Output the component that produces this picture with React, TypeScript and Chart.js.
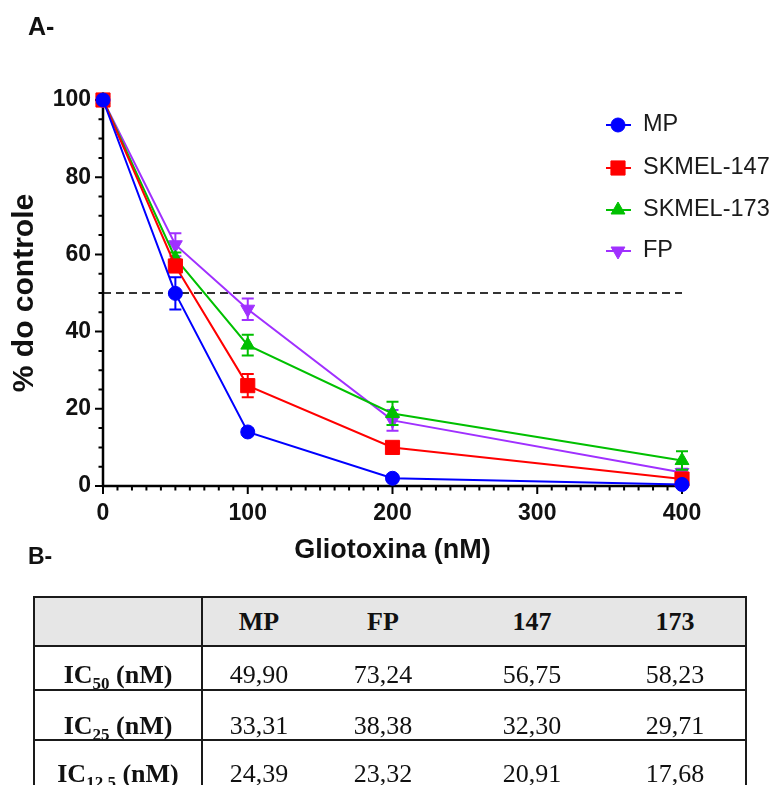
import React, { useEffect, useRef } from "react";
import { Chart, registerables } from "chart.js";

Chart.register(...registerables);

// ---------- data ----------
const doses = [0, 50, 100, 200, 400];
const mpMeans = [100, 49.9, 14, 2, 0.4];
const mpErrors = [0, 4.2, 0.8, 0.5, 0.3];
const sk147Means = [100, 57, 26, 10, 1.8];
const sk147Errors = [0, 1.5, 3, 1, 0.5];
const sk173Means = [100, 59, 36.5, 18.8, 6.6];
const sk173Errors = [0, 1.5, 2.7, 3, 2.4];
const fpMeans = [100, 62.5, 45.8, 17, 3.5];
const fpErrors = [0, 3, 2.8, 2.7, 1];

const seriesNames = ["MP", "SKMEL-147", "SKMEL-173", "FP"];
const seriesColors = ["#0000ff", "#ff0000", "#00c000", "#a030ff"];
const seriesShapes = ["circle", "rect", "triangle", "triangle"];
const seriesRotations = [0, 0, 0, 180];
const seriesRadii = [7, 10, 8, 8];

const referenceLevel = 50;
const xTitle = "Gliotoxina (nM)";
const yTitle = "% do controle";

const tableHeaders = ["MP", "FP", "147", "173"];
const rowSubscripts = ["50", "25", "12,5"];
const ic50Row = ["49,90", "73,24", "56,75", "58,23"];
const ic25Row = ["33,31", "38,38", "32,30", "29,71"];
const ic125Row = ["24,39", "23,32", "20,91", "17,68"];

// ---------- helpers ----------
const SANS = '"Liberation Sans", Arial, Helvetica, sans-serif';
const SERIF = '"Liberation Serif", "Times New Roman", serif';

function drawMarker(ctx: CanvasRenderingContext2D, shape: string, x: number, y: number, r: number, rot: number, color: string) {
  ctx.save();
  ctx.fillStyle = color;
  ctx.strokeStyle = color;
  ctx.lineWidth = 1;
  ctx.beginPath();
  if (shape === "circle") {
    ctx.arc(x, y, r, 0, Math.PI * 2);
  } else if (shape === "rect") {
    const s = Math.SQRT1_2 * r;
    ctx.rect(x - s, y - s, 2 * s, 2 * s);
  } else {
    const sg = rot === 180 ? -1 : 1;
    const w = r * Math.sin((2 * Math.PI) / 3);
    ctx.moveTo(x, y - sg * r);
    ctx.lineTo(x + w, y + (sg * r) / 2);
    ctx.lineTo(x - w, y + (sg * r) / 2);
    ctx.closePath();
  }
  ctx.fill();
  ctx.stroke();
  ctx.restore();
}

const decorPlugin = {
  id: "decor",
  beforeDatasetsDraw(chart: any) {
    const { ctx, chartArea: ca, scales } = chart;
    const x = scales.x;
    const y = scales.y;
    ctx.save();
    // reference dashed line
    ctx.strokeStyle = "#333";
    ctx.lineWidth = 2;
    ctx.setLineDash([8, 5]);
    const yy = y.getPixelForValue(referenceLevel);
    ctx.beginPath();
    ctx.moveTo(x.getPixelForValue(x.min), yy);
    ctx.lineTo(x.getPixelForValue(x.max), yy);
    ctx.stroke();
    ctx.setLineDash([]);
    // axis lines
    ctx.strokeStyle = "#000";
    ctx.lineWidth = 2.5;
    ctx.beginPath();
    ctx.moveTo(ca.left, ca.top);
    ctx.lineTo(ca.left, ca.bottom);
    ctx.lineTo(ca.right, ca.bottom);
    ctx.stroke();
    // tick marks
    ctx.lineWidth = 2;
    ctx.beginPath();
    for (let v = y.min; v <= y.max; v += 5) {
      const p = y.getPixelForValue(v);
      const len = v % 20 === 0 ? 8 : 4.5;
      ctx.moveTo(ca.left - len, p);
      ctx.lineTo(ca.left, p);
    }
    for (let v = x.min; v <= x.max; v += 10) {
      const p = x.getPixelForValue(v);
      const len = v % 100 === 0 ? 8 : 4.5;
      ctx.moveTo(p, ca.bottom);
      ctx.lineTo(p, ca.bottom + len);
    }
    ctx.stroke();
    ctx.restore();
  },
  beforeDatasetDraw(chart: any, args: any) {
    const ds = chart.data.datasets[args.index];
    const errs: number[] = ds.errors || [];
    const { ctx, scales } = chart;
    const y = scales.y;
    ctx.save();
    ctx.strokeStyle = ds.borderColor;
    ctx.lineWidth = 2;
    ctx.beginPath();
    args.meta.data.forEach((pt: any, i: number) => {
      const e = errs[i];
      if (!e) return;
      const v = ds.data[i].y;
      const top = y.getPixelForValue(v + e);
      const bot = y.getPixelForValue(v - e);
      ctx.moveTo(pt.x, top);
      ctx.lineTo(pt.x, bot);
      ctx.moveTo(pt.x - 6, top);
      ctx.lineTo(pt.x + 6, top);
      ctx.moveTo(pt.x - 6, bot);
      ctx.lineTo(pt.x + 6, bot);
    });
    ctx.stroke();
    ctx.restore();
  },
  afterDraw(chart: any) {
    const { ctx } = chart;
    const lx = 618;
    const ys = [125, 168, 210, 251];
    ctx.save();
    chart.data.datasets.forEach((ds: any, i: number) => {
      const yy = ys[i];
      ctx.strokeStyle = ds.borderColor;
      ctx.lineWidth = 2;
      ctx.beginPath();
      ctx.moveTo(lx - 12, yy);
      ctx.lineTo(lx + 13, yy);
      ctx.stroke();
      drawMarker(ctx, seriesShapes[i], lx, yy, seriesRadii[i], seriesRotations[i], ds.borderColor);
      ctx.fillStyle = "#1a1a1a";
      ctx.font = `23.5px ${SANS}`;
      ctx.textAlign = "left";
      ctx.textBaseline = "middle";
      ctx.fillText(ds.label, 643, yy);
    });
    ctx.restore();
  },
};

const allMeans = [mpMeans, sk147Means, sk173Means, fpMeans];
const allErrors = [mpErrors, sk147Errors, sk173Errors, fpErrors];

function ChartPanel() {
  const ref = useRef<HTMLCanvasElement | null>(null);
  useEffect(() => {
    if (!ref.current) return;
    const datasets = seriesNames.map((name, i) => ({
      label: name,
      data: doses.map((d, j) => ({ x: d, y: allMeans[i][j] })),
      errors: allErrors[i],
      borderColor: seriesColors[i],
      backgroundColor: seriesColors[i],
      pointBackgroundColor: seriesColors[i],
      pointBorderColor: seriesColors[i],
      pointBorderWidth: 1,
      pointStyle: seriesShapes[i],
      pointRotation: seriesRotations[i],
      pointRadius: seriesRadii[i],
      borderWidth: 2,
      tension: 0,
      clip: false as any,
    }));
    const chart = new Chart(ref.current, {
      type: "line",
      data: { datasets: datasets as any },
      options: {
        animation: false,
        responsive: false,
        maintainAspectRatio: false,
        layout: { padding: { left: 0, top: 100, right: 92, bottom: 0 } },
        plugins: { legend: { display: false }, tooltip: { enabled: false } },
        scales: {
          x: {
            type: "linear",
            min: 0,
            max: 400,
            grid: { display: false, drawTicks: false },
            border: { display: false },
            ticks: {
              stepSize: 100,
              padding: 14,
              maxRotation: 0,
              autoSkip: false,
              color: "#111",
              font: { family: SANS, size: 23, weight: "bold" },
            },
            title: {
              display: true,
              text: xTitle,
              color: "#111",
              font: { family: SANS, size: 27, weight: "bold" },
              padding: { top: 0, bottom: 13 },
            },
            afterFit: (s: any) => {
              s.height = 94;
            },
          },
          y: {
            type: "linear",
            min: 0,
            max: 100,
            grid: { display: false, drawTicks: false },
            border: { display: false },
            ticks: {
              stepSize: 20,
              padding: 12,
              color: "#111",
              font: { family: SANS, size: 23, weight: "bold" },
            },
            title: {
              display: true,
              text: yTitle,
              color: "#111",
              font: { family: SANS, size: 30, weight: "bold" },
              padding: { top: 7, bottom: 0 },
            },
            afterFit: (s: any) => {
              s.width = 103;
            },
          },
        },
      } as any,
      plugins: [decorPlugin],
    });
    return () => chart.destroy();
  }, []);
  return (
    <canvas
      ref={ref}
      width={774}
      height={580}
      style={{ position: "absolute", left: 0, top: 0, width: 774, height: 580 }}
    />
  );
}

const dataColCenters = [259, 383, 532, 675];
const labelCenter = 118;
const rowTops = [662, 713, 761];
const headerTop = 609;

function Cell({ cx, top, bold, children }: { cx: number; top: number; bold?: boolean; children: React.ReactNode }) {
  return (
    <div
      style={{
        position: "absolute",
        left: cx - 100,
        width: 200,
        top,
        textAlign: "center",
        fontFamily: SERIF,
        fontSize: 26,
        lineHeight: "26px",
        fontWeight: bold ? "bold" : "normal",
        color: "#111",
        whiteSpace: "nowrap",
      }}
    >
      {children}
    </div>
  );
}

function Line({ left, top, width, height }: { left: number; top: number; width: number; height: number }) {
  return <div style={{ position: "absolute", left, top, width, height, background: "#1a1a1a" }} />;
}

export default function App() {
  const rows = [ic50Row, ic25Row, ic125Row];
  return (
    <div
      style={{
        position: "fixed",
        left: 0,
        top: 0,
        width: 774,
        height: 785,
        background: "#fff",
        overflow: "hidden",
      }}
    >
      <ChartPanel />
      <div
        style={{
          position: "absolute",
          left: 28,
          top: 14,
          fontFamily: SANS,
          fontWeight: "bold",
          fontSize: 25,
          lineHeight: "25px",
          color: "#111",
        }}
      >
        A-
      </div>
      <div
        style={{
          position: "absolute",
          left: 28,
          top: 545,
          fontFamily: SANS,
          fontWeight: "bold",
          fontSize: 23,
          lineHeight: "23px",
          color: "#111",
        }}
      >
        B-
      </div>
      {/* table */}
      <div style={{ position: "absolute", left: 33, top: 597, width: 713, height: 49, background: "#e6e6e6" }} />
      <Line left={33} top={596} width={714} height={2} />
      <Line left={33} top={645} width={714} height={2} />
      <Line left={33} top={689} width={714} height={2} />
      <Line left={33} top={739} width={714} height={2} />
      <Line left={33} top={596} width={2} height={200} />
      <Line left={201} top={596} width={2} height={200} />
      <Line left={745} top={596} width={2} height={200} />
      {tableHeaders.map((h, i) => (
        <Cell key={"h" + i} cx={dataColCenters[i]} top={headerTop} bold>
          {h}
        </Cell>
      ))}
      {rows.map((row, r) => (
        <React.Fragment key={"r" + r}>
          <Cell cx={labelCenter} top={rowTops[r]} bold>
            IC
            <span style={{ fontSize: 17, position: "relative", top: 6 }}>{rowSubscripts[r]}</span> (nM)
          </Cell>
          {row.map((v, c) => (
            <Cell key={"c" + c} cx={dataColCenters[c]} top={rowTops[r]}>
              {v}
            </Cell>
          ))}
        </React.Fragment>
      ))}
    </div>
  );
}
